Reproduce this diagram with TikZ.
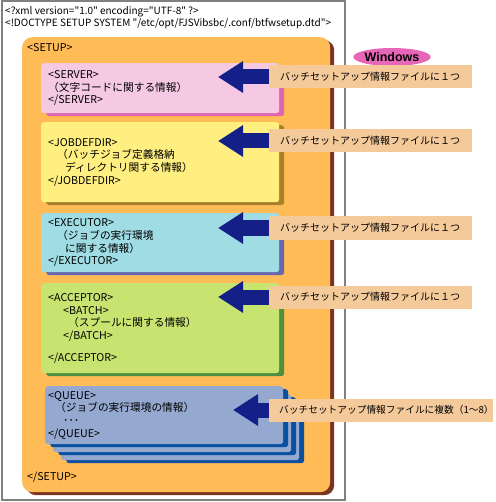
\documentclass[tikz,border=0pt]{standalone}
\usepackage{fontspec}
\newfontfamily\jpfont{Noto Sans CJK JP}
\newfontfamily\winfont{Liberation Sans}
\usetikzlibrary{arrows.meta,positioning,shapes.geometric,shadows}

\definecolor{setupfill}{HTML}{FFBB55}
\definecolor{setupdk}{HTML}{7B3322}
\definecolor{srvfill}{HTML}{F5C9E4}
\definecolor{srvdk}{HTML}{E066B0}
\definecolor{jobfill}{HTML}{FFEE80}
\definecolor{jobdk}{HTML}{A8802A}
\definecolor{exefill}{HTML}{A0DCE4}
\definecolor{exedk}{HTML}{6868B0}
\definecolor{accfill}{HTML}{C8E470}
\definecolor{accdk}{HTML}{4E9040}
\definecolor{quefill}{HTML}{94A8D0}
\definecolor{quedk}{HTML}{0A50A0}
\definecolor{labfill}{HTML}{F5CA9B}
\definecolor{arrowblue}{HTML}{142088}
\definecolor{winpink}{HTML}{E866B8}

\begin{document}
\begin{tikzpicture}[
    x=1pt, y=-1pt,
    font=\jpfont\fontsize{10}{12.7}\selectfont,
    tagbox/.style={align=left, anchor=north west, inner xsep=7pt, text width=224pt, rounded corners=3pt,
        font=\jpfont\fontsize{10.7}{12.7}\selectfont},
    lbl/.style={fill=labfill, anchor=west, minimum height=23pt, inner xsep=11pt, text width=181pt, align=left},
    bigarrow/.style={draw=arrowblue, line width=15pt, -{Triangle[length=25pt, width=30pt]}},
    winbox/.style={ellipse, fill=winpink, minimum width=64pt, minimum height=18pt, inner sep=0pt, font=\winfont\bfseries\fontsize{12.5}{13}\selectfont}
]
\useasboundingbox (0,0) rectangle (495,502);
\draw[gray, line width=2pt] (2,1) rectangle (345,500);
\node[anchor=west, inner sep=2pt] (xmldecl) at (3,12) {<?xml version="1.0" encoding="UTF-8" ?>};
\node[anchor=west, inner sep=2pt] (doctype) at (3,24) {<!DOCTYPE SETUP SYSTEM "/etc/opt/FJSVibsbc/.conf/btfwsetup.dtd">};

% SETUP
\node[fill=setupfill, rounded corners=10pt, anchor=north west, minimum width=308pt, minimum height=455pt,
    drop shadow={shadow xshift=4pt, shadow yshift=-3pt, fill=setupdk, opacity=1}] (setup) at (22,37) {};
\node[anchor=west, inner sep=0pt, font=\jpfont\fontsize{10.7}{12.7}\selectfont] (setupo) at (27,48) {<SETUP>};
\node[anchor=west, inner sep=0pt, font=\jpfont\fontsize{10.7}{12.7}\selectfont] (setupc) at (27,477) {</SETUP>};

% child elements
\node[tagbox, fill=srvfill, minimum height=50pt,
    drop shadow={shadow xshift=5pt, shadow yshift=-3pt, fill=srvdk, opacity=1}] (server) at (41,63)
    {<SERVER>\\（文字コードに関する情報）\\</SERVER>};
\node[tagbox, fill=jobfill, minimum height=80pt,
    drop shadow={shadow xshift=5pt, shadow yshift=-3pt, fill=jobdk, opacity=1}] (jobdef) at (41,122)
    {<JOBDEFDIR>\\\hspace*{9pt}（バッチジョブ定義格納\\\hspace*{17pt}ディレクトリ関する情報）\\</JOBDEFDIR>};
\node[tagbox, fill=exefill, minimum height=59pt,
    drop shadow={shadow xshift=5pt, shadow yshift=-3pt, fill=exedk, opacity=1}] (executor) at (41,213)
    {<EXECUTOR>\\\hspace*{9pt}（ジョブの実行環境\\\hspace*{17pt}に関する情報）\\</EXECUTOR>};
\node[tagbox, fill=accfill, minimum height=90pt,
    drop shadow={shadow xshift=5pt, shadow yshift=-3pt, fill=accdk, opacity=1}] (acceptor) at (41,283)
    {<ACCEPTOR>\\\hspace*{15pt}<BATCH>\\\hspace*{20pt}（スプールに関する情報）\\\hspace*{15pt}</BATCH>\\[9pt]</ACCEPTOR>};

% QUEUE (several)
\node[tagbox, fill=quefill, minimum height=58pt, text width=232pt, inner xsep=3pt,
    drop shadow={shadow xshift=5pt, shadow yshift=-3pt, fill=quedk, opacity=1}] (queue3) at (61,402) {};
\node[tagbox, fill=quefill, minimum height=58pt, text width=232pt, inner xsep=3pt,
    drop shadow={shadow xshift=5pt, shadow yshift=-3pt, fill=quedk, opacity=1}] (queue2) at (53,394) {};
\node[tagbox, fill=quefill, minimum height=58pt, text width=232pt, inner xsep=3pt,
    drop shadow={shadow xshift=5pt, shadow yshift=-3pt, fill=quedk, opacity=1}] (queue) at (45,386)
    {<QUEUE>\\\hspace*{7pt}（ジョブの実行環境の情報）\\\hspace*{15pt}･･･\\</QUEUE>};

% notes
\node[winbox] (win) at (392,57) {Windows};
\node[lbl] (lab1) at (269,77) {バッチセットアップ情報ファイルに１つ};
\node[lbl] (lab2) at (269,141) {バッチセットアップ情報ファイルに１つ};
\node[lbl] (lab3) at (269,228) {バッチセットアップ情報ファイルに１つ};
\node[lbl] (lab4) at (269,297) {バッチセットアップ情報ファイルに１つ};
\node[lbl, text width=204pt, inner xsep=10pt, font=\jpfont\fontsize{9.7}{12}\selectfont] (lab5) at (269,410) {バッチセットアップ情報ファイルに複数（1～8）};

\coordinate (t1) at (218,77);
\coordinate (t2) at (218,141);
\coordinate (t3) at (218,228);
\coordinate (t4) at (218,297);
\coordinate (t5) at (233,410);
\draw[bigarrow] (lab1.west) -- (t1);
\draw[bigarrow] (lab2.west) -- (t2);
\draw[bigarrow] (lab3.west) -- (t3);
\draw[bigarrow] (lab4.west) -- (t4);
\draw[bigarrow] (lab5.west) -- (t5);
\end{tikzpicture}
\end{document}
